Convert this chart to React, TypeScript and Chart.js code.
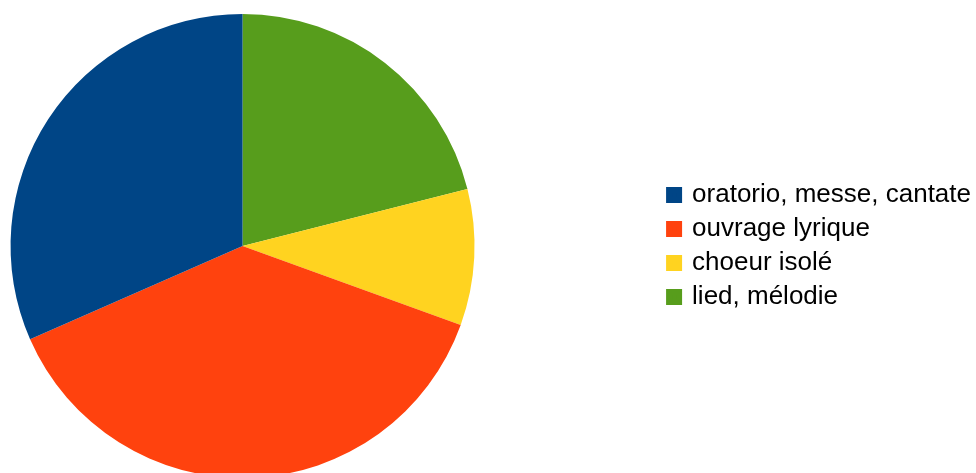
import React, { useEffect, useRef } from "react";
import { Chart, registerables } from "chart.js";

Chart.register(...registerables);

// Legend order (as in the reference)
const categories = ["oratorio, messe, cantate", "ouvrage lyrique", "choeur isolé", "lied, mélodie"];
const values = [30, 36, 9, 20];
const colors = ["#004586", "#ff420e", "#ffd320", "#579d1c"];

export default function App() {
  const ref = useRef<HTMLCanvasElement | null>(null);

  useEffect(() => {
    if (!ref.current) return;
    // Chart.js draws clockwise; the reference goes counter-clockwise from 12 o'clock,
    // so feed reversed data and reverse the legend back.
    const labels = [...categories].reverse();
    const data = [...values].reverse();
    const bg = [...colors].reverse();
    const defaultGen = (Chart as any).overrides.pie.plugins.legend.labels.generateLabels;
    const chart = new Chart(ref.current, {
      type: "pie",
      data: {
        labels,
        datasets: [
          {
            data,
            backgroundColor: bg,
            borderWidth: 0,
            hoverOffset: 0,
            radius: 232,
          } as any,
        ],
      },
      options: {
        responsive: false,
        animation: false,
        layout: { padding: { top: 14, left: 0, right: 0, bottom: 0 } },
        plugins: {
          tooltip: { enabled: false },
          legend: {
            position: "right",
            reverse: true,
            labels: {
              boxWidth: 10,
              boxHeight: 10,
              padding: 8,
              color: "#000",
              font: { family: "'Liberation Sans', Arial, sans-serif", size: 26 },
              generateLabels: (c: any) =>
                defaultGen(c).map((it: any) => ({
                  ...it,
                  lineWidth: 6,
                  strokeStyle: it.fillStyle,
                })),
            },
          },
        },
      },
    });
    return () => chart.destroy();
  }, []);

  return (
    <div
      style={{
        position: "absolute",
        left: 0,
        top: 0,
        width: 976,
        height: 473,
        overflow: "hidden",
        background: "#fff",
      }}
    >
      <canvas
        ref={ref}
        width={1157}
        height={478}
        style={{ position: "absolute", left: -176, top: 0, width: 1157, height: 478 }}
      />
    </div>
  );
}
